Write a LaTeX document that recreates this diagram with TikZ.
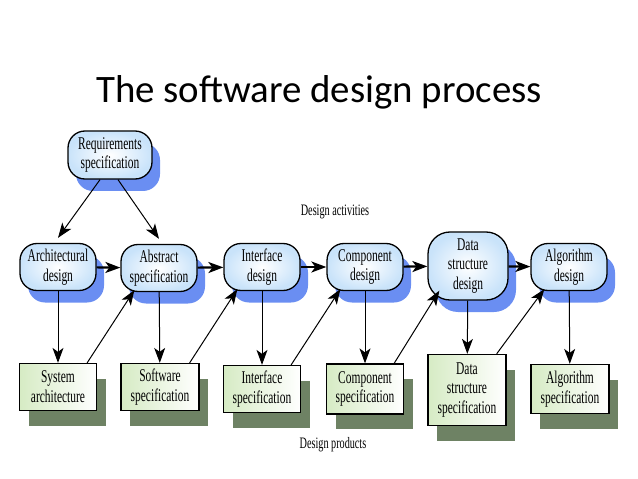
\documentclass[tikz,border=0pt]{standalone}
\usepackage{fontspec}
\setmainfont{Liberation Serif}[FakeStretch=0.64]
\newfontfamily\titlefont{Carlito}
\usepackage{tikz}
\usetikzlibrary{arrows.meta}
\usetikzlibrary{shadows}
\tikzset{>={Stealth[length=15pt,width=11pt,inset=4pt]}}
\definecolor{actfill}{HTML}{C9E3FA}
\definecolor{actshadow}{HTML}{6A8EF2}
\definecolor{prodfill}{HTML}{D6EBC4}
\definecolor{prodshadow}{HTML}{6E8264}
\tikzset{
  activity/.style={draw, line width=1.3bp, rounded corners=17bp, inner color=white, outer color=actfill,
    minimum width=76bp, minimum height=47bp, align=center, inner sep=1bp,
    font=\fontsize{18}{20}\selectfont,
    drop shadow={shadow xshift=8bp, shadow yshift=-12bp, fill=actshadow, opacity=1}},
  product/.style={draw, line width=1.3bp, left color=prodfill, right color=white,
    minimum width=77bp, minimum height=47bp, align=center, inner sep=1bp,
    font=\fontsize{18}{20}\selectfont,
    drop shadow={shadow xshift=9bp, shadow yshift=-15bp, fill=prodshadow, opacity=1}},
  flow/.style={->, line width=2.2bp},
  down/.style={->, line width=1bp},
  feed/.style={->, line width=1bp}
}

\begin{document}
\begin{tikzpicture}[x=1bp, y=-1bp]
  \useasboundingbox (0,0) rectangle (638,479);
  \node (title) at (319,92) {\titlefont\fontsize{39}{44}\selectfont The software design process};

  % design activities
  \node[activity, minimum width=84bp, minimum height=48bp] (req) at (110,155) {Requirements\\specification};
  \node[activity] (arch) at (58,267) {Architectural\\design};
  \node[activity] (abs) at (159,268) {Abstract\\specification};
  \node[activity] (intd) at (262,267) {Interface\\design};
  \node[activity] (comp) at (365,267) {Component\\design};
  \node[activity, minimum width=80bp, minimum height=68bp, rounded corners=22bp] (data) at (468,266) {Data\\structure\\design};
  \node[activity] (alg) at (569,267) {Algorithm\\design};

  % design products
  \node[product] (sysarch) at (58,387) {System\\architecture};
  \node[product, minimum width=78bp] (softspec) at (160,387) {Software\\specification};
  \node[product] (intspec) at (262,389) {Interface\\specification};
  \node[product, minimum height=50bp] (compspec) at (365,389) {Component\\specification};
  \node[product, minimum width=78bp, minimum height=71bp] (dataspec) at (467,390) {Data\\structure\\specification};
  \node[product, minimum width=78bp, minimum height=49bp] (algspec) at (570,389) {Algorithm\\specification};

  \node[font=\fontsize{16}{18}\selectfont] (acts) at (335,212) {Design activities};
  \node[font=\fontsize{16}{18}\selectfont] (prods) at (333,445) {Design products};

  \draw[down] ([xshift=-10bp]req.south) -- ([yshift=5bp]arch.north);
  \draw[down] ([xshift=8bp]req.south) -- ([yshift=5bp]abs.north);

  \draw[flow] (arch) -- (abs);
  \draw[flow] (abs) -- (intd);
  \draw[flow] (intd) -- (comp);
  \draw[flow] (comp) -- (data);
  \draw[flow] (data) -- (alg);

  \draw[down] (arch) -- (sysarch);
  \draw[down] (abs) -- (softspec);
  \draw[down] (intd) -- (intspec);
  \draw[down] (comp) -- (compspec);
  \draw[down] (data) -- (dataspec);
  \draw[down] (alg) -- (algspec);

  \draw[feed] ([xshift=-10bp]sysarch.north east) -- ([xshift=14bp,yshift=2bp]abs.south west);
  \draw[feed] ([xshift=-10bp]softspec.north east) -- ([xshift=14bp,yshift=2bp]intd.south west);
  \draw[feed] ([xshift=-10bp]intspec.north east) -- ([xshift=14bp,yshift=2bp]comp.south west);
  \draw[feed] ([xshift=-10bp]compspec.north east) -- ([xshift=12bp,yshift=10bp]data.south west);
  \draw[feed] ([xshift=-10bp]dataspec.north east) -- ([xshift=14bp,yshift=2bp]alg.south west);
\end{tikzpicture}
\end{document}
